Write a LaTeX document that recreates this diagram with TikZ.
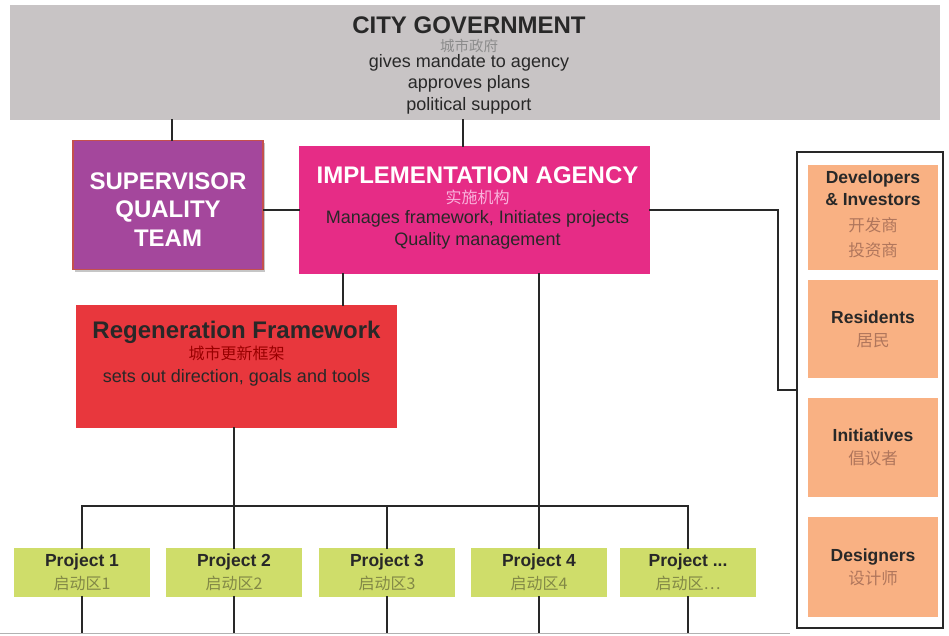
\documentclass[tikz,border=0pt]{standalone}
\usepackage{fontspec}
\setmainfont{Liberation Sans}
\newfontfamily\cjk{Noto Sans CJK SC}
\usetikzlibrary{positioning,shadows}
\definecolor{govgrey}{RGB}{200,196,197}
\definecolor{supviolet}{RGB}{164,71,156}
\definecolor{supedge}{RGB}{196,80,77}
\definecolor{agmagenta}{RGB}{230,44,134}
\definecolor{regred}{RGB}{232,55,61}
\definecolor{projgreen}{RGB}{207,221,106}
\definecolor{stakeorange}{RGB}{249,177,131}
\definecolor{inkgrey}{RGB}{40,40,40}
\definecolor{zhbrown}{RGB}{176,118,92}
\definecolor{zholive}{RGB}{130,136,70}
\newcommand{\fsz}[2]{\fontsize{#1}{#2}\selectfont}
\newcommand{\zhs}[2]{{\cjk\fsz{#1}{#1}\color{zhbrown}#2}}

\begin{document}
\begin{tikzpicture}[x=1pt,y=-1pt,font=\fsz{18}{22},
  box/.style={draw=none,inner sep=0pt,align=center,text=inkgrey},
  link/.style={line width=2.4pt,inkgrey,line cap=rect},
  projbox/.style={box,fill=projgreen,minimum width=136,minimum height=49,
                  font=\fsz{17.5}{23}},
  stakebox/.style={box,fill=stakeorange,minimum width=130,minimum height=100,
                   font=\fsz{17.5}{23}}]
\useasboundingbox (0,0) rectangle (949,635);
% ---------- top level ----------
\node[box,fill=govgrey,minimum width=930,minimum height=115] (gov) at (475,62) {};
\node[box,font=\fsz{18}{21.5}] (govtxt) at ([xshift=-6pt,yshift=-3pt]gov.center)
  {{\fsz{24}{24}\bfseries CITY GOVERNMENT}\\[-3pt]
   {\cjk\fsz{14.5}{14.5}\color{black!45}城市政府}\\[-6pt]
   gives mandate to agency\\ approves plans\\ political support};
\node[box,fill=supviolet,draw=supedge,line width=1.5pt,minimum width=190,minimum height=129,
      drop shadow={opacity=0.45,shadow xshift=2pt,shadow yshift=-2pt}] (sup) at (168,205) {};
\node[box,text=white,font=\fsz{24}{28.5}\bfseries] (suptxt) at ([yshift=-4.5pt]sup.center)
  {SUPERVISOR\\ QUALITY\\ TEAM};
\node[box,fill=agmagenta,minimum width=351,minimum height=128] (agency) at (474.5,210) {};
\node[box] (agtxt) at ([xshift=3pt,yshift=2pt]agency.center)
  {{\fsz{24}{24}\bfseries\color{white}IMPLEMENTATION AGENCY}\\[-2pt]
   {\cjk\fsz{16}{16}\color{magenta!30}实施机构}\\[-2pt]
   Manages framework, Initiates projects\\ Quality management};
% ---------- framework ----------
\node[box,fill=regred,minimum width=321,minimum height=123] (regen) at (236.5,366) {};
\node[box,font=\fsz{18}{23}] (regtxt) at ([yshift=12pt]regen.center)
  {{\fsz{24}{24}\bfseries Regeneration Framework}\\[-2pt]
   {\cjk\fsz{16}{16}\color{red!60!black}城市更新框架}\\
   sets out direction, goals and tools};
% ---------- projects ----------
\foreach \n/\x/\lb/\zh in {1/82/{Project 1}/{启动区1}, 2/234/{Project 2}/{启动区2},
                           3/387/{Project 3}/{启动区3}, 4/539/{Project 4}/{启动区4},
                           5/688/{Project ...}/{启动区…}}{
  \node[projbox] (p\n) at (\x,572.5)
    {\textbf{\lb}\\{\cjk\fsz{16}{16}\color{zholive}\zh}};
  \draw[link] (p\n.south) -- (p\n.south |- 0,633);
}
% ---------- stakeholders ----------
\node[draw=inkgrey,line width=1.3pt,fill=white,minimum width=146,minimum height=476,inner sep=0pt]
  (stake) at (870,390) {};
\node[stakebox,minimum height=105] (dev) at (873,217.5) {};
\node[box,font=\fsz{17.5}{22}] (devtxt) at ([yshift=3pt]dev.center)
  {\textbf{Developers}\\ \textbf{\& Investors}\\[4pt] \zhs{16.5}{开发商}\\[3pt] \zhs{16.5}{投资商}};
\node[stakebox,minimum height=98] (res) at (873,329)
  {\textbf{Residents}\\ \zhs{16.5}{居民}};
\node[stakebox,minimum height=99] (ini) at (873,447.5)
  {\textbf{Initiatives}\\ \zhs{16.5}{倡议者}};
\node[stakebox,minimum height=100] (des) at (873,567)
  {\textbf{Designers}\\ \zhs{16.5}{设计师}};
% ---------- connectors ----------
\coordinate (bend) at (778,0);
\draw[link] ([xshift=4pt]sup.north |- gov.south) -- ([xshift=4pt]sup.north);
\draw[link] ([xshift=-11.5pt]agency.north |- gov.south) -- ([xshift=-11.5pt]agency.north);
\draw[link] (sup.east |- agency.west) -- (agency.west);
\draw[link] (agency.east) -- (agency.east -| bend) |- (stake.west);
\draw[link] ([xshift=106.5pt]regen.north |- agency.south) -- ([xshift=106.5pt]regen.north);
\draw[link] (regen.south -| p2.north) -- (p2.north);
\draw[link] (agency.south -| p4.north) -- (p4.north);
\draw[link] (p1.north |- 0,506) -- (p5.north |- 0,506);
\draw[link] (p1.north |- 0,506) -- (p1.north);
\draw[link] (p3.north |- 0,506) -- (p3.north);
\draw[link] (p5.north |- 0,506) -- (p5.north);
\draw[black!30,line width=1pt] (0,633.5) -- (790,633.5);
\end{tikzpicture}
\end{document}
